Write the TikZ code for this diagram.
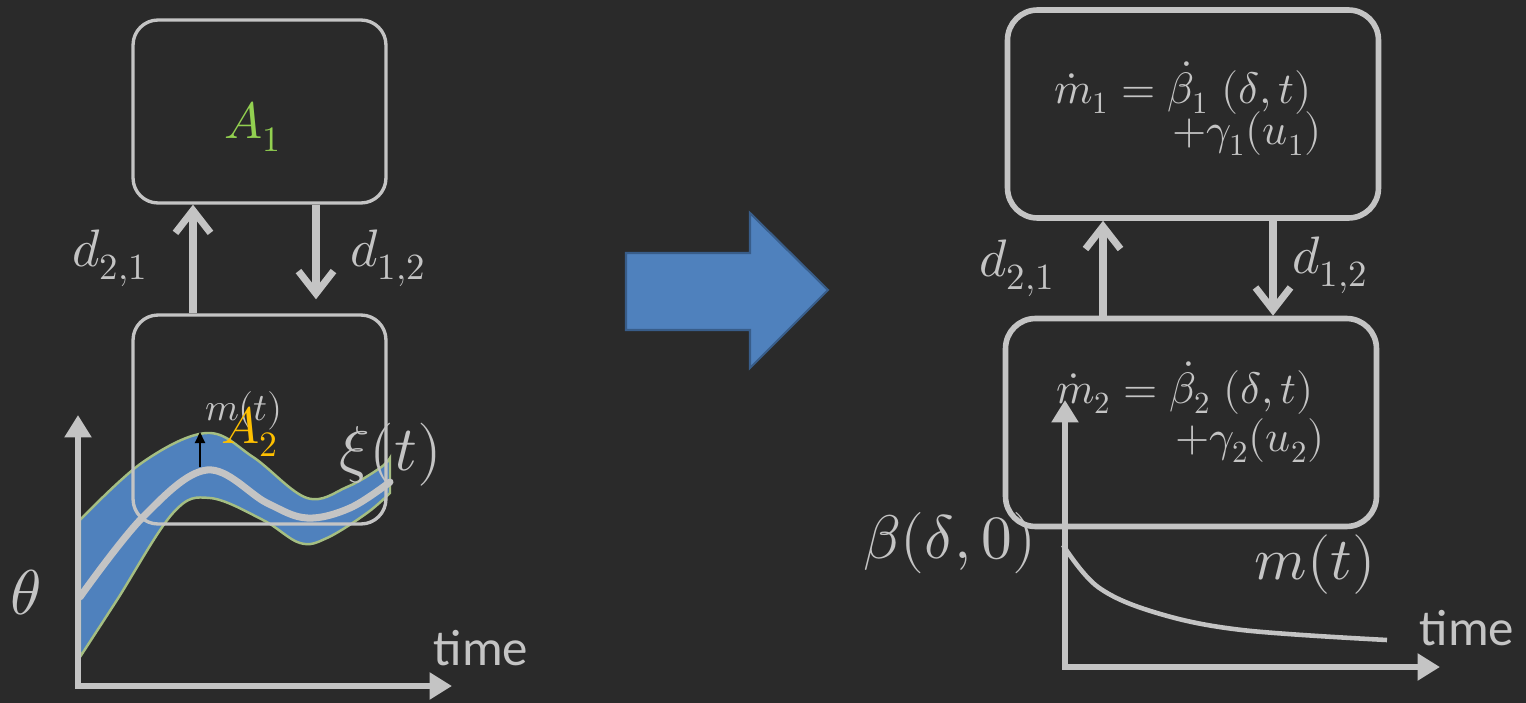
\documentclass[tikz,border=0pt]{standalone}
\usepackage{fontspec}
\usepackage{unicode-math}
\newfontfamily\labelfont{Carlito}
\usetikzlibrary{arrows.meta}

\definecolor{board}{RGB}{42,42,42}
\definecolor{chalk}{RGB}{196,196,196}
\definecolor{bandblue}{RGB}{79,129,189}
\definecolor{bandedge}{RGB}{165,190,130}
\definecolor{arrowedge}{RGB}{56,93,138}
\definecolor{agreen}{RGB}{146,208,80}
\definecolor{agold}{RGB}{255,192,0}

\tikzset{
  block/.style={draw=chalk, rounded corners=0.5cm, line width=1.9pt, minimum width=5.06cm},
  bigblock/.style={draw=chalk, rounded corners=0.6cm, line width=3.2pt, minimum width=7.42cm, minimum height=4.16cm},
  link/.style={chalk, line width=4pt, -{Straight Barb[length=0.45cm, width=0.7cm]}},
  axis/.style={chalk, line width=3.3pt, line join=miter, {Triangle[length=0.45cm, width=0.52cm]}-{Triangle[length=0.45cm, width=0.52cm]}},
  chalktext/.style={text=chalk, inner sep=0pt},
  fs/.style={font=\fontsize{#1}{#1}\selectfont},
}

\begin{document}
\begin{tikzpicture}[x=0.02cm, y=-0.02cm]
  % Board
  \fill[board] (0,0) rectangle (1526,703);
  \useasboundingbox (0,0) rectangle (1526,703);

  % Left: two compartments
  \fill[bandblue, draw=bandedge, line width=1.4pt]
    plot[smooth, tension=0.6] coordinates {(80,520) (143,462) (207,433) (253,457) (307,498) (347,487) (380,468) (390,458)}
    -- plot[smooth, tension=0.6] coordinates {(390,493) (367,513) (327,538) (300,543) (263,520) (210,498) (173,513) (117,600) (80,657)}
    -- cycle;
  \node[block, minimum height=3.66cm] (A1) at (259.5,111.5) {};
  \node[block, minimum height=4.18cm] (A2) at (259.5,419.5) {};
  \node[chalktext, fs=29, text=agreen] (lA1) at (253,127) {$A_1$};

  \coordinate (upL) at (193,0);
  \coordinate (downL) at (316,0);
  \draw[link] (A2.north -| upL) -- (A1.south -| upL);
  \draw[link, shorten >=8pt] (A1.south -| downL) -- (A2.north -| downL);
  \node[chalktext, fs=30] (d21L) at (110,258) {$d_{2,1}$};
  \node[chalktext, fs=30] (d12L) at (388,258) {$d_{1,2}$};

  % Mean curve and axes
  \draw[chalk, line width=4pt, line cap=round]
    plot[smooth, tension=0.6] coordinates {(80,597) (143,517) (207,470) (267,503) (307,518) (350,508) (390,482)};
  \coordinate (OL) at (78,686);
  \coordinate (yL) at (78,415);
  \coordinate (xL) at (452,686);
  \draw[axis] (yL) -- (OL) -- (xL);

  \coordinate (mfoot) at (200,467);
  \coordinate (mhead) at (200,432);
  \draw[black, line width=1.2pt, -{Triangle[length=0.22cm, width=0.2cm]}] (mfoot) -- (mhead);
  \node[chalktext, fs=22] (mL) at (244,411) {$m(t)$};
  \node[chalktext, fs=29, text=agold] (lA2) at (250,432) {$A_2$};
  \node[chalktext, fs=36] (xi) at (391,455) {$\xi(t)$};
  \node[chalktext, fs=36] (theta) at (26,593) {$\theta$};
  \node[chalktext, font=\labelfont\fontsize{29}{29}\selectfont] (timeL) at (481,648) {time};

  % Middle arrow
  \filldraw[fill=bandblue, draw=arrowedge, line width=1.2pt]
    (626,253) -- (750,253) -- (750,213) -- (828,290) -- (750,368) -- (750,330) -- (626,330) -- cycle;

  % Right: compartments with dynamics
  \node[bigblock] (B1) at (1193,114) {};
  \node[bigblock] (B2) at (1191,422.5) {};
  \node[chalktext, fs=25] (eq1a) at (1183,88) {$\dot{m}_1 = \dot{\beta}_1\;(\delta,t)$};
  \node[chalktext, fs=25] (eq1b) at (1247,134) {$+\gamma_1(u_1)$};
  \node[chalktext, fs=25] (eq2a) at (1185,388) {$\dot{m}_2 = \dot{\beta}_2\;(\delta,t)$};
  \node[chalktext, fs=25] (eq2b) at (1250,441) {$+\gamma_2(u_2)$};

  \coordinate (upR) at (1103,0);
  \coordinate (downR) at (1273,0);
  \draw[link] (B2.north -| upR) -- (B1.south -| upR);
  \draw[link] (B1.south -| downR) -- (B2.north -| downR);
  \node[chalktext, fs=30] (d21R) at (1017,268) {$d_{2,1}$};
  \node[chalktext, fs=30] (d12R) at (1330,265) {$d_{1,2}$};

  % Decay of m(t)
  \coordinate (OR) at (1065,667);
  \coordinate (yR) at (1065,400);
  \coordinate (xR) at (1440,667);
  \draw[axis] (yR) -- (OR) -- (xR);
  \draw[chalk, line width=2.6pt]
    plot[smooth, tension=0.6] coordinates {(1063,545) (1098,587) (1157,613) (1242,630) (1387,640)};
  \node[chalktext, fs=35] (beta0) at (950,543) {$\beta(\delta,0)$};
  \node[chalktext, fs=34] (mR) at (1315,565) {$m(t)$};
  \node[chalktext, font=\labelfont\fontsize{29}{29}\selectfont] (timeR) at (1467,628) {time};
\end{tikzpicture}
\end{document}
